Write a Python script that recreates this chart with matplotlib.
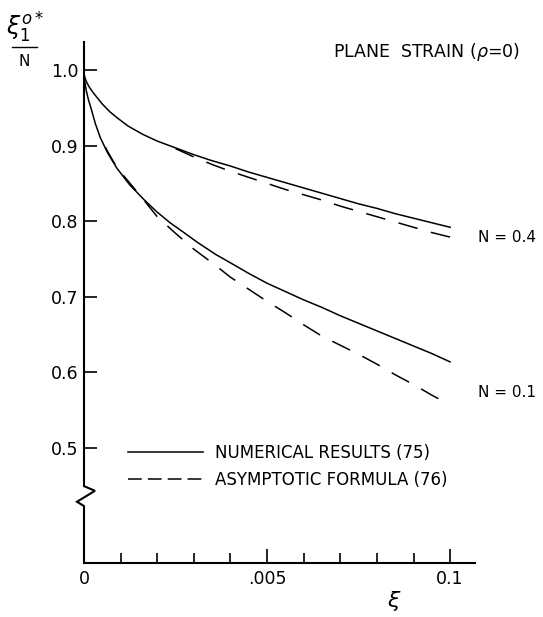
import matplotlib.pyplot as plt
from matplotlib.lines import Line2D

# values (xi, ratio xi_1^o* / N)
xi_num_n04 = [0, 0.00003, 0.00008, 0.00015, 0.00025, 0.00035, 0.0005,
              0.0007, 0.0009, 0.0012, 0.0016, 0.0020, 0.0025, 0.0030,
              0.0035, 0.0040, 0.0045, 0.0050, 0.0055, 0.0060, 0.0065,
              0.0070, 0.0075, 0.0080, 0.0085, 0.0090, 0.0095, 0.010]
ratio_num_n04 = [0.995, 0.989, 0.983, 0.977, 0.970, 0.964, 0.955,
                 0.945, 0.937, 0.926, 0.915, 0.906, 0.897, 0.888,
                 0.880, 0.873, 0.865, 0.858, 0.851, 0.844, 0.837,
                 0.830, 0.823, 0.817, 0.810, 0.804, 0.798, 0.792]

xi_asy_n04 = [0.0025, 0.0030, 0.0035, 0.0040, 0.0045, 0.0050, 0.0055,
              0.0060, 0.0065, 0.0070, 0.0075, 0.0080, 0.0085, 0.0090,
              0.0095, 0.010]
ratio_asy_n04 = [0.896, 0.885, 0.875, 0.866, 0.858, 0.850, 0.842,
                 0.835, 0.828, 0.820, 0.813, 0.806, 0.799, 0.792,
                 0.785, 0.779]

xi_num_n01 = [0, 0.00002, 0.00006, 0.00012, 0.0002, 0.00031, 0.00045,
              0.00065, 0.0009, 0.00125, 0.00165, 0.0020, 0.00235, 0.0027,
              0.0031, 0.0036, 0.0040, 0.0045, 0.0050, 0.0055, 0.0060,
              0.0065, 0.0070, 0.0075, 0.0080, 0.0085, 0.0090, 0.0095, 0.010]
ratio_num_n01 = [0.995, 0.985, 0.973, 0.961, 0.948, 0.929, 0.910,
                 0.890, 0.870, 0.848, 0.828, 0.812, 0.798, 0.786,
                 0.772, 0.756, 0.745, 0.731, 0.718, 0.707, 0.696,
                 0.686, 0.675, 0.665, 0.655, 0.645, 0.635, 0.625, 0.614]

xi_asy_n01 = [0.00058, 0.0008, 0.0010, 0.0015, 0.0020, 0.0025, 0.0030,
              0.0035, 0.0040, 0.0045, 0.0050, 0.0055, 0.0060, 0.0065,
              0.0070, 0.0075, 0.0080, 0.0085, 0.0090, 0.0095, 0.010]
ratio_asy_n01 = [0.898, 0.879, 0.865, 0.836, 0.806, 0.784, 0.763,
                 0.745, 0.726, 0.710, 0.694, 0.679, 0.663, 0.648,
                 0.636, 0.624, 0.611, 0.597, 0.584, 0.570, 0.557]

x_ticks = [0, 0.005, 0.010]
x_tick_labels = ['0', '.005', '0.1']
x_minor = [0.001 * i for i in range(1, 10)]
y_ticks = [0.5, 0.6, 0.7, 0.8, 0.9, 1.0]
y_tick_labels = ['0.5', '0.6', '0.7', '0.8', '0.9', '1.0']

plt.rcParams['font.family'] = ['DejaVu Sans']

fig = plt.figure(figsize=(5.43, 6.17), dpi=100)
ax = fig.add_axes([0.1547, 0.0875, 0.7201, 0.8444])

lw = 1.1
ax.plot(xi_num_n04, ratio_num_n04, color='black', lw=lw)
ax.plot(xi_num_n01, ratio_num_n01, color='black', lw=lw)
ax.plot(xi_asy_n04, ratio_asy_n04, color='black', lw=lw, dashes=(13, 9))
ax.plot(xi_asy_n01, ratio_asy_n01, color='black', lw=lw, dashes=(13, 9))

ax.set_xlim(0, 0.01068)
ax.set_ylim(0.348, 1.037)

for side in ['top', 'right', 'left']:
    ax.spines[side].set_visible(False)
ax.spines['bottom'].set_linewidth(1.5)

# left axis drawn by hand so it can carry the break mark
tr = ax.get_yaxis_transform()
ax.plot([0, 0, 0.028, -0.018, 0, 0],
        [1.037, 0.4497, 0.4435, 0.429, 0.4233, 0.348],
        transform=tr, color='black', lw=1.5, clip_on=False,
        solid_joinstyle='miter')

ax.set_xticks(x_ticks)
ax.set_xticklabels(x_tick_labels)
ax.set_xticks(x_minor, minor=True)
ax.tick_params(axis='x', which='major', direction='in', length=10, width=1.2,
               labelsize=12.5, pad=5)
ax.tick_params(axis='x', which='minor', direction='in', length=7, width=1.2)
ax.set_yticks(y_ticks)
ax.set_yticklabels(y_tick_labels)
ax.tick_params(axis='y', direction='in', length=9, width=1.2,
               labelsize=12.5, pad=4)

# curve labels
ax.text(0.01075, 0.778, 'N = 0.4', fontsize=11, va='center', ha='left')
ax.text(0.01075, 0.574, 'N = 0.1', fontsize=11, va='center', ha='left')

handles = [Line2D([], [], color='black', lw=lw),
           Line2D([], [], color='black', lw=lw, dashes=(9, 4))]
ax.legend(handles, ['NUMERICAL RESULTS (75)', 'ASYMPTOTIC FORMULA (76)'],
          loc='upper left', bbox_to_anchor=(0.112, 0.229), frameon=False,
          fontsize=12, handlelength=4.5, handletextpad=0.75,
          labelspacing=0.53, borderpad=0, borderaxespad=0)

fig.text(0.613, 0.9076, r'PLANE  STRAIN ($\rho$=0)', fontsize=12.5,
         ha='left', va='baseline')

# y label written as a fraction
fig.text(0.046, 0.943, r'$\xi_1^{o*}$', fontsize=17, ha='center',
         va='baseline')
fig.add_artist(Line2D([0.022, 0.068], [0.924, 0.924], color='black', lw=1.0))
fig.text(0.044, 0.901, 'N', fontsize=11, ha='center', va='center')

fig.text(0.726, 0.016, r'$\xi$', fontsize=16, ha='center', va='baseline')

fig.savefig('out.png', dpi=100)
